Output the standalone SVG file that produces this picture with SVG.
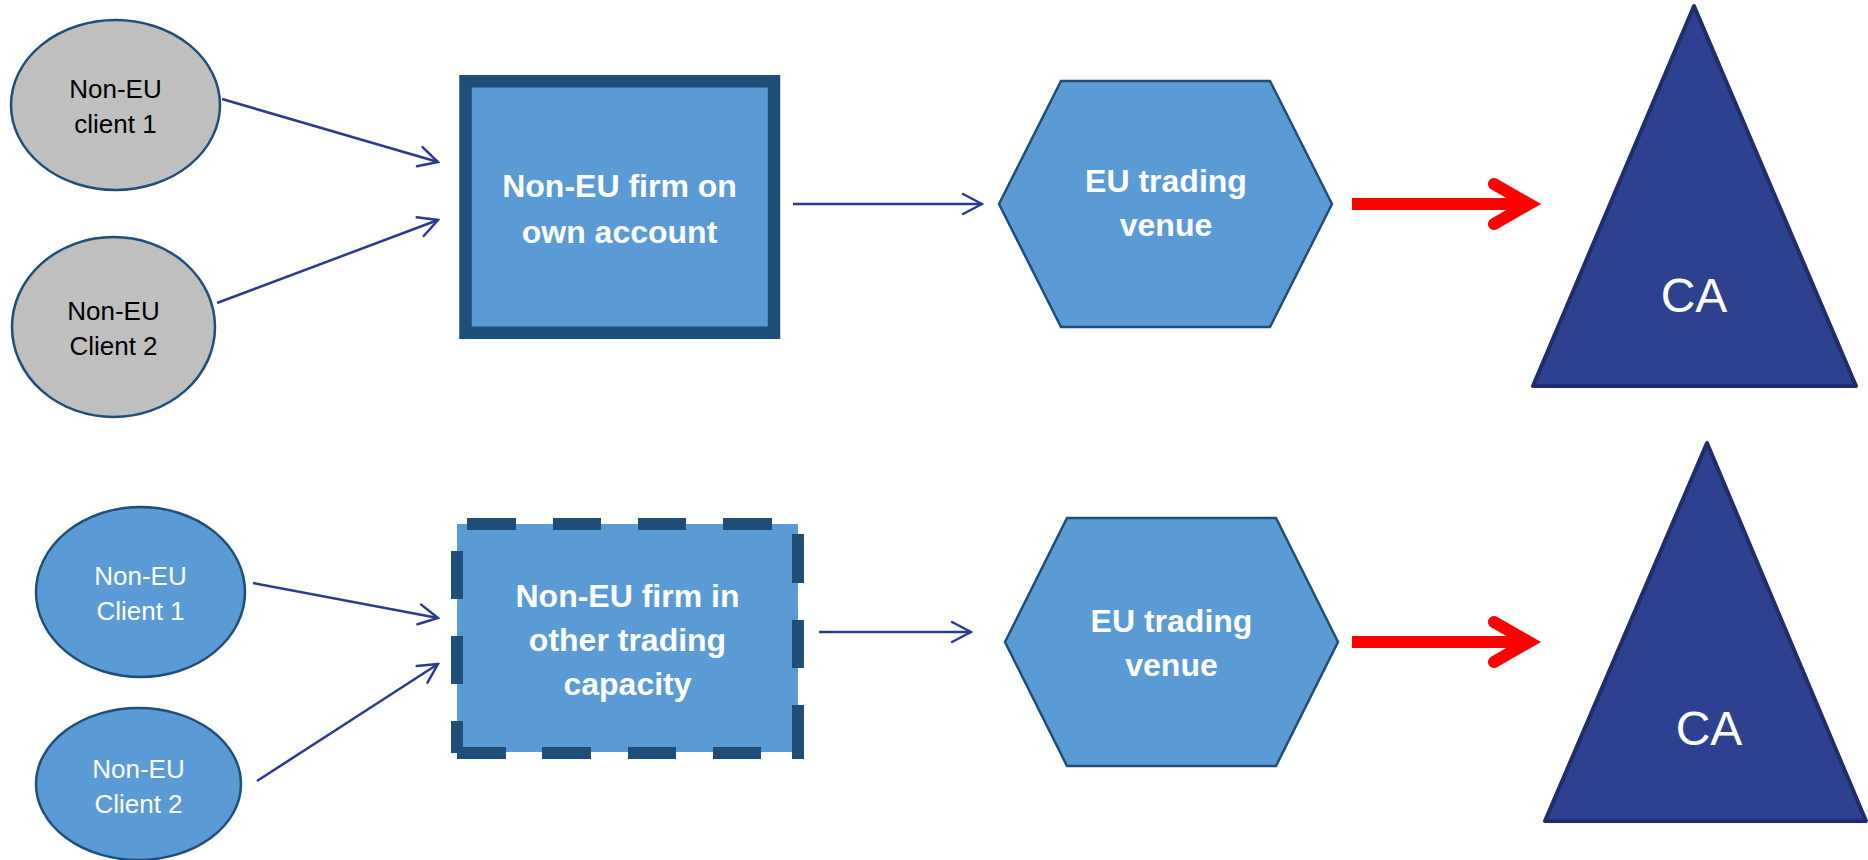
<svg xmlns="http://www.w3.org/2000/svg" width="1868" height="860" viewBox="0 0 1868 860">
<defs>
<style>
.client-grey{fill:#BFBFBF;stroke:#1F4E79;stroke-width:2.5}
.client-blue{fill:#5B9BD5;stroke:#1F4E79;stroke-width:2.5}
.ct{font-family:"Liberation Sans",Arial,sans-serif;font-size:26px;text-anchor:middle}
.bt{font-family:"Liberation Sans",Arial,sans-serif;font-size:32px;font-weight:bold;fill:#FFFFFF;text-anchor:middle}
.ca{font-family:"Liberation Sans",Arial,sans-serif;font-size:48px;fill:#FFFFFF;text-anchor:middle}
.hex{fill:#5B9BD5;stroke:#1F4E79;stroke-width:2.5}
.tri{fill:#2E4190;stroke:#1F2D6B;stroke-width:4;stroke-linejoin:round}
.conn{fill:none;stroke:#2B3A8E;stroke-width:2.5;marker-end:url(#arr)}
.red{fill:none;stroke:#FF0000;stroke-width:12}
</style>
<marker id="arr" viewBox="-22 -12 24 24" markerWidth="24" markerHeight="24" refX="0" refY="0" orient="auto" markerUnits="userSpaceOnUse">
<path d="M-19,-10 L0,0 L-19,10" fill="none" stroke="#2B3A8E" stroke-width="2.5" stroke-linecap="round"/>
</marker>
</defs>
<rect width="1868" height="860" fill="#FFFFFF"/>

<g id="client1-top">
<ellipse class="client-grey" cx="115.5" cy="105" rx="104.5" ry="85"/>
<text class="ct" x="115.5" y="98" fill="#000000">Non-EU</text>
<text class="ct" x="115.5" y="133" fill="#000000">client 1</text>
</g>
<g id="client2-top">
<ellipse class="client-grey" cx="113.5" cy="327" rx="101.5" ry="90"/>
<text class="ct" x="113.5" y="320" fill="#000000">Non-EU</text>
<text class="ct" x="113.5" y="355" fill="#000000">Client 2</text>
</g>
<g id="firm-own">
<rect x="465.5" y="81.25" width="308.5" height="251.5" fill="#5B9BD5" stroke="#1F4E79" stroke-width="12.5"/>
<text class="bt" x="619.5" y="197">Non-EU firm on</text>
<text class="bt" x="619.5" y="243">own account</text>
</g>
<g id="venue-top">
<polygon class="hex" points="999,204 1061,81 1270,81 1332,204 1270,327 1061,327"/>
<text class="bt" x="1166" y="192">EU trading</text>
<text class="bt" x="1166" y="236">venue</text>
</g>
<g id="ca-top">
<polygon class="tri" points="1694,6 1533,386 1856,386"/>
<text class="ca" x="1694" y="312">CA</text>
</g>

<g id="client1-bottom">
<ellipse class="client-blue" cx="140.5" cy="592" rx="104.5" ry="85"/>
<text class="ct" x="140.5" y="585" fill="#FFFFFF">Non-EU</text>
<text class="ct" x="140.5" y="620" fill="#FFFFFF">Client 1</text>
</g>
<g id="client2-bottom">
<ellipse class="client-blue" cx="138.5" cy="784" rx="102.5" ry="76"/>
<text class="ct" x="138.5" y="778" fill="#FFFFFF">Non-EU</text>
<text class="ct" x="138.5" y="813" fill="#FFFFFF">Client 2</text>
</g>
<g id="firm-other">
<rect x="457" y="524" width="341" height="228" fill="#5B9BD5"/>
<path fill="none" stroke="#1F4E79" stroke-width="12" d="M467,524H516M553,524H601M638,524H686M723,524H772M798,534V583M798,620V668M798,705V759M761,753H713M676,753H628M591,753H542M506,753H457M457,753V721M457,684V636M457,599V551"/>
<text class="bt" x="627.5" y="607">Non-EU firm in</text>
<text class="bt" x="627.5" y="651">other trading</text>
<text class="bt" x="627.5" y="695">capacity</text>
</g>
<g id="venue-bottom">
<polygon class="hex" points="1005,642 1067,518 1276,518 1338,642 1276,766 1067,766"/>
<text class="bt" x="1171.5" y="632">EU trading</text>
<text class="bt" x="1171.5" y="676">venue</text>
</g>
<g id="ca-bottom">
<polygon class="tri" points="1707,443 1545,821 1866,821"/>
<text class="ca" x="1709" y="745">CA</text>
</g>

<g id="connectors">
<line class="conn" x1="222" y1="99" x2="438" y2="162"/>
<line class="conn" x1="217" y1="303" x2="438" y2="220"/>
<line class="conn" x1="793" y1="204" x2="982" y2="204"/>
<line class="conn" x1="253" y1="583" x2="438" y2="618"/>
<line class="conn" x1="257" y1="781" x2="438" y2="664"/>
<line class="conn" x1="819" y1="632" x2="971" y2="632"/>
<path class="red" d="M1352,204H1530"/>
<path class="red" d="M1494,184L1529,204L1494,224" stroke-linecap="round" stroke-linejoin="miter"/>
<path class="red" d="M1352,642H1530"/>
<path class="red" d="M1494,622L1529,642L1494,662" stroke-linecap="round" stroke-linejoin="miter"/>
</g>
</svg>
